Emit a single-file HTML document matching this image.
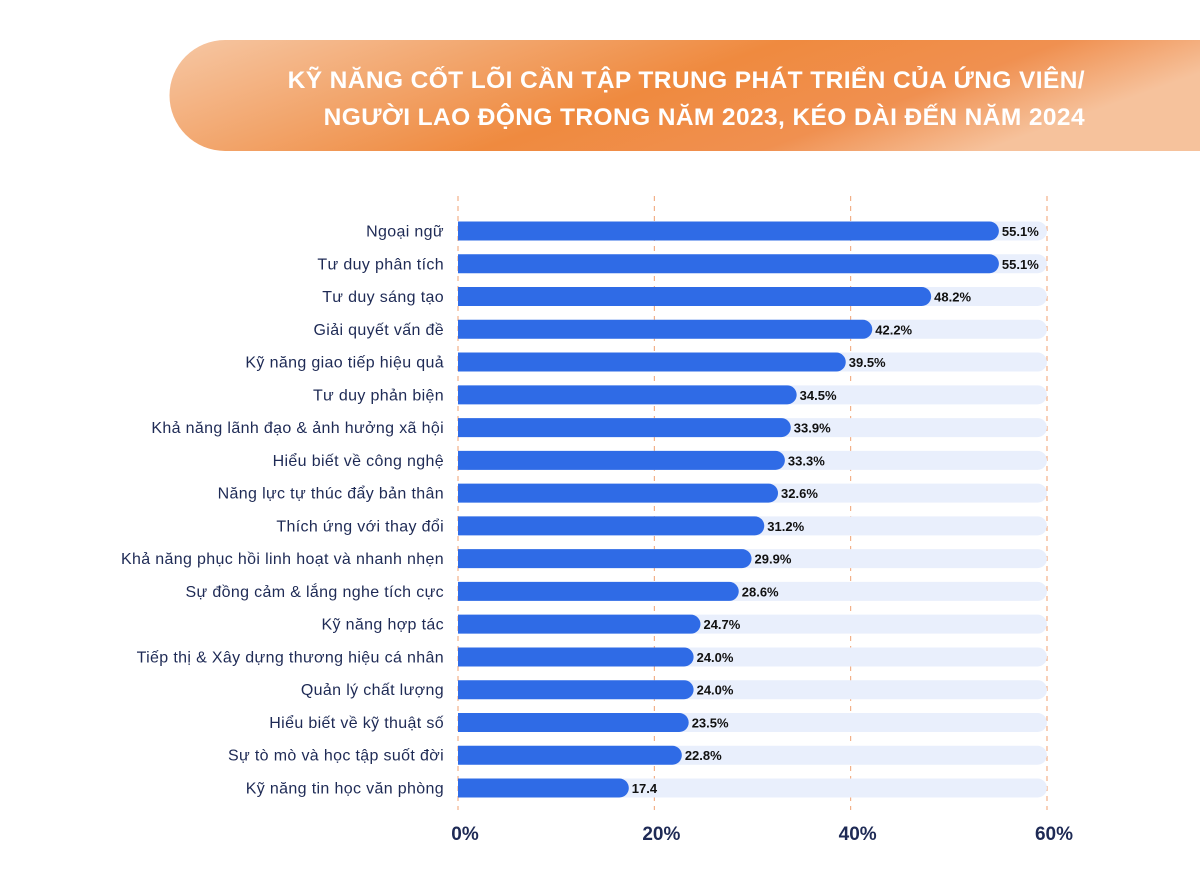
<!DOCTYPE html>
<html><head><meta charset="utf-8"><style>
body{margin:0;width:1200px;height:884px;background:#fff;overflow:hidden;font-family:"Liberation Sans",sans-serif;}
</style></head><body>
<svg width="1200" height="884">
<defs>
<linearGradient id="bg" x1="0" y1="0" x2="1" y2="0.3">
<stop offset="0" stop-color="#f6c7a4"/><stop offset="0.55" stop-color="#ef8a3f"/><stop offset="0.8" stop-color="#f09050"/><stop offset="1" stop-color="#f6c29c"/>
</linearGradient>
</defs>
<path d="M225,40 H1200 V151 H225 A55.5,55.5 0 0 1 225,40 Z" fill="url(#bg)"/>
<text x="1085" y="88" text-anchor="end" fill="#fff" font-size="24.5" font-weight="bold" letter-spacing="0.4">KỸ NĂNG CỐT LÕI CẦN TẬP TRUNG PHÁT TRIỂN CỦA ỨNG VIÊN/</text>
<text x="1085" y="125" text-anchor="end" fill="#fff" font-size="24.5" font-weight="bold" letter-spacing="0.4">NGƯỜI LAO ĐỘNG TRONG NĂM 2023, KÉO DÀI ĐẾN NĂM 2024</text>
<g id="plot"></g>
</svg>
<script>
const categories=["Ngoại ngữ","Tư duy phân tích","Tư duy sáng tạo","Giải quyết vấn đề","Kỹ năng giao tiếp hiệu quả","Tư duy phản biện","Khả năng lãnh đạo & ảnh hưởng xã hội","Hiểu biết về công nghệ","Năng lực tự thúc đẩy bản thân","Thích ứng với thay đổi","Khả năng phục hồi linh hoạt và nhanh nhẹn","Sự đồng cảm & lắng nghe tích cực","Kỹ năng hợp tác","Tiếp thị & Xây dựng thương hiệu cá nhân","Quản lý chất lượng","Hiểu biết về kỹ thuật số","Sự tò mò và học tập suốt đời","Kỹ năng tin học văn phòng"];
const values=[55.1,55.1,48.2,42.2,39.5,34.5,33.9,33.3,32.6,31.2,29.9,28.6,24.7,24.0,24.0,23.5,22.8,17.4];
const valueLabels=["55.1%","55.1%","48.2%","42.2%","39.5%","34.5%","33.9%","33.3%","32.6%","31.2%","29.9%","28.6%","24.7%","24.0%","24.0%","23.5%","22.8%","17.4"];
const ticks=[0,20,40,60];
const tickLabels=["0%","20%","40%","60%"];
const NS="http://www.w3.org/2000/svg";
const g=document.getElementById('plot');
const x0=458,x1=1047,xMax=60;
const xs=v=>x0+(x1-x0)*v/xMax;
const yTop=231,step=(788-231)/17,bh=19;
const ys=i=>yTop+i*step;
function mk(t,a){const e=document.createElementNS(NS,t);for(const k in a)e.setAttribute(k,a[k]);g.appendChild(e);return e;}
categories.forEach((c,i)=>{
  const y=ys(i);
  const tr=mk('rect',{x:x0,y:y-bh/2,width:x1-x0,height:bh,rx:9.5,fill:'#e9effc'});
  
  
  const w=xs(values[i])-x0;
  const b=mk('path',{d:`M${x0},${y-bh/2} H${x0+w-bh/2} A${bh/2},${bh/2} 0 0 1 ${x0+w-bh/2},${y+bh/2} H${x0} Z`,fill:'#2f6be6'});
  
  
  const l=mk('text',{x:444,y:y+5.5,'text-anchor':'end',fill:'#1e2a55','font-size':16,'letter-spacing':0.35});
  l.textContent=c;
  
  
  const v=mk('text',{x:x0+w+3,y:y+5,fill:'#111','font-size':13,'font-weight':'bold'});
  v.textContent=valueLabels[i];
  
  
});
ticks.forEach((t,i)=>{
  const x=xs(t);
  const ln=mk('line',{x1:x,x2:x,y1:196,y2:810,stroke:'#f0a070','stroke-width':1,'stroke-dasharray':'5,5'});
  
  
  g.insertBefore(ln,g.firstChild);
  const tx=mk('text',{x:x+7,y:840,'text-anchor':'middle',fill:'#1e2a55','font-size':19,'font-weight':'bold'});
  tx.textContent=tickLabels[i];
  
  
});
</script>
</body></html>
